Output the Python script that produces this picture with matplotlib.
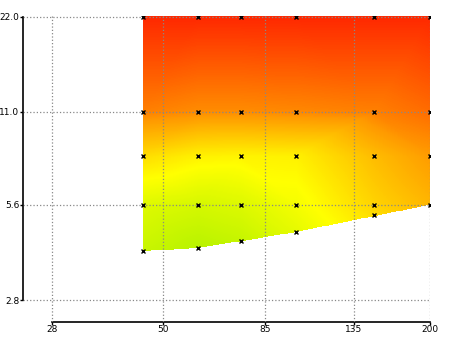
import numpy as np
import matplotlib
matplotlib.use('Agg')
import matplotlib.pyplot as plt
import matplotlib.tri as mtri
from matplotlib.colors import LinearSegmentedColormap

# measured points: x, y and the value that sets the colour
pt_x = [45, 60, 75, 100, 150, 200,
        45, 60, 75, 100, 150, 200,
        45, 60, 75, 100, 150, 200,
        45, 60, 75, 100, 150, 200,
        45, 60, 75, 100, 150]
pt_y = [22, 22, 22, 22, 22, 22,
        11, 11, 11, 11, 11, 11,
        8, 8, 8, 8, 8, 8,
        5.6, 5.6, 5.6, 5.6, 5.6, 5.6,
        4.0, 4.1, 4.3, 4.6, 5.2]
pt_v = [0.98, 0.98, 0.98, 0.98, 0.98, 0.98,
        0.76, 0.73, 0.73, 0.74, 0.76, 0.81,
        0.47, 0.40, 0.39, 0.40, 0.58, 0.69,
        0.22, 0.18, 0.21, 0.31, 0.50, 0.60,
        0.13, 0.07, 0.12, 0.25, 0.47]

x_ticks = [28, 50, 85, 135, 200]
y_ticks = [2.8, 5.6, 11.0, 22.0]

cmap = LinearSegmentedColormap.from_list(
  'gyr', [(0.0, '#a8f000'), (0.35, '#ffff00'), (0.7, '#ff9900'), (1.0, '#ff2000')])

def interp_surface(n=500):
  lx = np.log(np.array(pt_x, float))
  ly = np.log(np.array(pt_y, float))
  tri = mtri.Triangulation(lx, ly)
  f = mtri.LinearTriInterpolator(tri, np.array(pt_v))
  gx = np.linspace(lx.min(), lx.max(), n)
  gy = np.linspace(ly.min(), ly.max(), n)
  GX, GY = np.meshgrid(gx, gy)
  Z = f(GX, GY)
  return np.exp(GX), np.exp(GY), Z

def main():
  fig = plt.figure(figsize=(4.5, 3.37), dpi=100)
  ax = fig.add_axes([0.0511, 0.0445, 0.9045, 0.908])
  X, Y, Z = interp_surface()
  ax.pcolormesh(X, Y, Z, cmap=cmap, vmin=0, vmax=1, shading='nearest', zorder=1)
  ax.plot(pt_x, pt_y, 'x', color='black', ms=3, mew=1, zorder=4)

  ax.set_xscale('log')
  ax.set_yscale('log')
  ax.set_xlim(24.1, 200.5)
  ax.set_ylim(2.39, 22.1)
  ax.minorticks_off()
  ax.set_xticks(x_ticks)
  ax.set_xticklabels([str(t) for t in x_ticks])
  ax.set_yticks(y_ticks)
  ax.set_yticklabels(['%.1f' % t for t in y_ticks])
  ax.tick_params(labelsize=6.5, length=2, width=1, pad=0.5)
  ax.grid(True, linestyle=':', color='#888888', linewidth=0.9, zorder=3)
  ax.set_axisbelow(False)
  for s in ['top', 'right']:
    ax.spines[s].set_visible(False)
  ax.spines['left'].set_bounds(2.8, 22.0)
  ax.spines['bottom'].set_bounds(28, 200)
  ax.spines['left'].set_linewidth(1.2)
  ax.spines['bottom'].set_linewidth(1.2)
  fig.savefig('out.png', dpi=100)

if __name__ == '__main__':
  main()
